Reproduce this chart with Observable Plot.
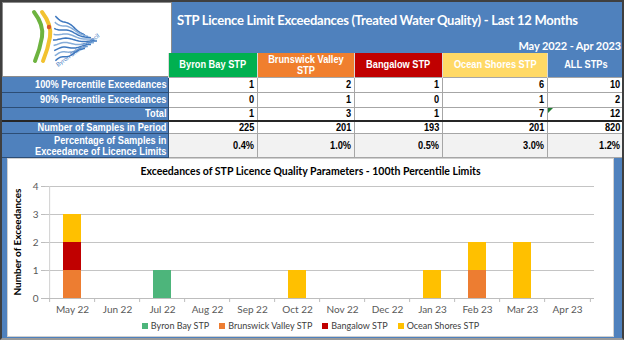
<!DOCTYPE html>
<html><head><meta charset="utf-8">
<script src="https://cdn.jsdelivr.net/npm/d3@7"></script>
<script src="https://cdn.jsdelivr.net/npm/@observablehq/plot@0.6"></script>
<style>
body{margin:0;background:#fff;}
#wrap{position:relative;width:624px;height:340px;overflow:hidden;background:#4F81BD;box-sizing:border-box;}
#border{position:absolute;left:0;top:0;width:624px;height:340px;box-sizing:border-box;border:2px solid #3f3f3f;border-bottom-color:#9a9a9a;pointer-events:none;z-index:5;}
#logo{position:absolute;left:2px;top:2px;width:170px;height:75px;background:#fff;box-sizing:border-box;border:1px solid #8c8c8c;}
#title{position:absolute;left:177px;top:12px;font:bold 13px Lato,sans-serif;letter-spacing:-0.25px;color:#fff;white-space:nowrap;}
#period{position:absolute;right:3px;top:39px;font:bold 11px Lato,sans-serif;letter-spacing:-0.1px;color:#fff;white-space:nowrap;}
table{position:absolute;left:2px;top:53px;border-collapse:collapse;table-layout:fixed;font-family:"Liberation Sans",Arial,sans-serif;font-weight:bold;font-size:11px;}
td,th{padding:0 3px;overflow:hidden;white-space:nowrap;line-height:11px;}
td span,th span{display:inline-block;transform:scaleX(0.84);}
td span{transform-origin:right center;}
th span{transform-origin:center center;}
th{color:#fff;text-align:center;font-weight:bold;border-left:1px solid #d9d9d9;}
td.rh{background:#4F81BD;color:#fff;text-align:right;border-bottom:1px solid #2c4d75;border-right:1px solid #2c4d75;padding-right:2px;}
td.v{background:#fff;color:#000;text-align:right;border:1px solid #a6a6a6;}
tr.thick td{border-top:2px solid #262626;}
tr.pct td.v{background:#f2f2f2;}
#chartbox{position:absolute;left:7px;top:158px;width:607px;height:179px;background:#fff;box-sizing:border-box;border:1px solid #d0d0d0;}
#ctitle{position:absolute;left:7px;width:607px;top:165px;text-align:center;font:bold 10.5px Lato,sans-serif;color:#000;}
#ylab{position:absolute;left:17px;top:242px;transform:translate(-50%,-50%) rotate(-90deg);font:bold 10px Lato,sans-serif;color:#000;white-space:nowrap;}
#plot{position:absolute;left:7px;top:180px;}
#legend{position:absolute;left:7px;width:607px;top:320px;display:flex;justify-content:center;gap:10px;font:9px Lato,sans-serif;color:#404040;}
#legend span.sw{display:inline-block;width:6px;height:6px;margin-right:3px;vertical-align:0px;}
.tri{position:absolute;width:0;height:0;border-top:5px solid #1e7b30;border-right:5px solid transparent;}
</style></head><body>
<div id="wrap">
  <div id="logo"></div>
  <div id="title"></div>
  <div id="period"></div>
  <table id="tbl"></table>
  <div id="chartbox"></div>
  <div id="ctitle"></div>
  <div id="ylab"></div>
  <div id="plot"></div>
  <div id="legend"></div>
  <div id="border"></div>
</div>
<script>
// ---------- data ----------
const headerTitle = "STP Licence Limit Exceedances (Treated Water Quality) - Last 12 Months";
const periodLabel = "May 2022 - Apr 2023";
const stations = ["Byron Bay STP", "Brunswick Valley STP", "Bangalow STP", "Ocean Shores STP"];
const tableColumns = ["Byron Bay STP", "Brunswick Valley<br>STP", "Bangalow STP", "Ocean Shores STP", "ALL STPs"];
const columnColors = ["#00B050", "#F07F2E", "#C00000", "#FFD966", "#4F81BD"];
const rowLabels = ["100% Percentile Exceedances", "90% Percentile Exceedances", "Total", "Number of Samples in Period", "Percentage of Samples in<br>Exceedance of Licence Limits"];
const pct100 = [1, 2, 1, 6, 10];
const pct90 = [0, 1, 0, 1, 2];
const totals = [1, 3, 1, 7, 12];
const samples = [225, 201, 193, 201, 820];
const percentages = ["0.4%", "1.0%", "0.5%", "3.0%", "1.2%"];

const chartTitle = "Exceedances of STP Licence Quality Parameters - 100th Percentile Limits";
const yLabel = "Number of Exceedances";
const months = ["May 22", "Jun 22", "Jul 22", "Aug 22", "Sep 22", "Oct 22", "Nov 22", "Dec 22", "Jan 23", "Feb 23", "Mar 23", "Apr 23"];
const byronBay =        [0, 0, 1, 0, 0, 0, 0, 0, 0, 0, 0, 0];
const brunswickValley = [1, 0, 0, 0, 0, 0, 0, 0, 0, 1, 0, 0];
const bangalow =        [1, 0, 0, 0, 0, 0, 0, 0, 0, 0, 0, 0];
const oceanShores =     [1, 0, 0, 0, 0, 1, 0, 0, 1, 1, 2, 0];
const yTicks = [0, 1, 2, 3, 4];
const barColors = ["#4DB57B", "#ED7D31", "#C00000", "#FFC000"];

// ---------- header ----------
document.getElementById("title").textContent = headerTitle;
document.getElementById("period").textContent = periodLabel;

// ---------- logo (decorative) ----------
(function(){
  const ns = "http://www.w3.org/2000/svg";
  let s = `<svg xmlns="${ns}" width="168" height="73" viewBox="0 0 168 73">`;
  s += `<path d="M31,9 Q41,22 39,34 Q37,46 32,58" fill="none" stroke="#6DB33F" stroke-width="4" stroke-linecap="round"/>`;
  s += `<path d="M39,9 Q49,22 47,34 Q45,46 40,58" fill="none" stroke="#F2C230" stroke-width="4" stroke-linecap="round"/>`;
  s += `<circle cx="46" cy="24" r="2.2" fill="#D9582B"/>`;
  for (let i = 0; i < 9; i++) {
    const x0 = 50 + Math.abs(i - 4) * 0.6, y0 = 13 + i * 5.6;
    const x1 = 94 - Math.abs(i - 4) * 3, y1 = 40 + (y0 - 40) * 0.3;
    const pts = [];
    for (let k = 0; k <= 24; k++) {
      const t = k / 24;
      pts.push([x0 + (x1 - x0) * t, y0 + (y1 - y0) * t + 1.6 * Math.sin(t * Math.PI * 3 + i * 0.4) * (1 - t * 0.6)]);
    }
    s += `<path d="M${pts.map(p => p[0].toFixed(1) + "," + p[1].toFixed(1)).join("L")}" fill="none" stroke="${i % 2 ? '#86ADD9' : '#3E78BF'}" stroke-width="1.5"/>`;
  }
  s += `<text transform="translate(55,64) rotate(-36)" font-family="Lato,sans-serif" font-size="6" fill="#3E78BF">Byron Shire Council</text>`;
  s += `</svg>`;
  document.getElementById("logo").innerHTML = s;
})();

// ---------- table ----------
(function(){
  const widths = [170, 91, 90, 91, 90, 88];
  const heights = [24, 15, 15, 14, 12, 24];
  let h = "<colgroup>" + widths.map(w => `<col style="width:${w}px">`).join("") + "</colgroup>";
  h += `<tr style="height:${heights[0]}px"><td style="background:transparent;border:none"></td>` +
       tableColumns.map((c, i) => `<th style="background:${columnColors[i]}"><span>${c}</span></th>`).join("") + "</tr>";
  const rows = [pct100, pct90, totals, samples, percentages];
  rows.forEach((r, k) => {
    const cls = k === 3 ? "thick" : k === 4 ? "pct" : "";
    h += `<tr class="${cls}" style="height:${heights[k+1]}px"><td class="rh"><span>${rowLabels[k]}</span></td>` +
         r.map(v => `<td class="v"><span>${v}</span></td>`).join("") + "</tr>";
  });
  document.getElementById("tbl").innerHTML = h;
  // Excel indicator triangle in ALL STPs total cell
  const cell = document.querySelectorAll("#tbl tr")[3].children[5];
  const t = document.createElement("div");
  t.className = "tri";
  const wr = document.getElementById("wrap").getBoundingClientRect();
  const cr = cell.getBoundingClientRect();
  t.style.left = (cr.left - wr.left) + "px";
  t.style.top = (cr.top - wr.top + 1) + "px";
  document.getElementById("wrap").appendChild(t);
})();

// ---------- chart ----------
document.getElementById("ctitle").textContent = chartTitle;
document.getElementById("ylab").textContent = yLabel;

const seriesValues = [byronBay, brunswickValley, bangalow, oceanShores];
const rows = [];
stations.forEach((s, i) => seriesValues[i].forEach((v, j) => rows.push({month: months[j], station: s, value: v})));

const W = 607, H = 137, mL = 38, mR = 20, mT = 6, mB = 19;
const step = (W - mL - mR) / months.length;

const chart = Plot.plot({
  width: W, height: H,
  marginLeft: mL, marginRight: mR, marginTop: mT, marginBottom: mB,
  style: {fontFamily: "Lato, sans-serif", fontSize: "10px", color: "#595959", background: "transparent"},
  x: {domain: months, paddingInner: 0.6, paddingOuter: 0.3, label: null, tickSize: 0, tickPadding: 7},
  y: {domain: [0, 4], ticks: yTicks, label: null, tickSize: 4, tickPadding: 3, tickFormat: d3.format("d")},
  color: {domain: stations, range: barColors},
  marks: [
    Plot.ruleY(yTicks.filter(d => d > 0), {stroke: "#c4c4c4", strokeWidth: 1}),
    Plot.barY(rows, Plot.stackY({x: "month", y: "value", fill: "station"})),
    Plot.ruleY([0], {stroke: "#bdbdbd"}),
    Plot.ruleX(months, {x: d => d, y1: 0, y2: 0, insetBottom: -4, dx: -step / 2, stroke: "#bdbdbd"}),
    Plot.ruleX(months.slice(-1), {x: d => d, y1: 0, y2: 0, insetBottom: -4, dx: step / 2, stroke: "#bdbdbd"}),
    Plot.ruleX([months[0]], {x: d => d, y1: 0, y2: 4, dx: -step / 2, stroke: "#d0d0d0"})
  ]
});
chart.querySelectorAll("g[aria-label='y-axis tick'] path, g[aria-label='y-axis tick'] line").forEach(e => e.setAttribute("stroke", "#bdbdbd"));
document.getElementById("plot").appendChild(chart);

// ---------- legend ----------
document.getElementById("legend").innerHTML = stations.map((s, i) =>
  `<span><span class="sw" style="background:${barColors[i]}"></span>${s}</span>`).join("");
</script>
</body></html>
